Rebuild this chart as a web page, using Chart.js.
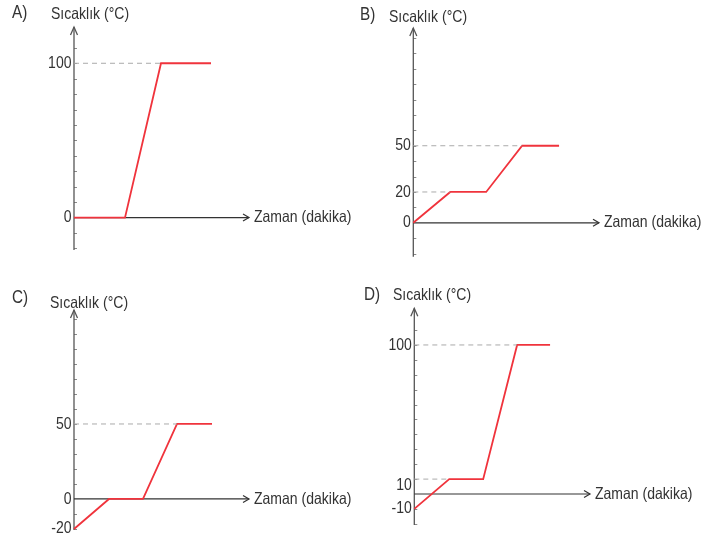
<!DOCTYPE html>
<html>
<head>
<meta charset="utf-8">
<script src="https://cdn.jsdelivr.net/npm/chart.js@4.4.1/dist/chart.umd.min.js"></script>
<style>
  html, body { margin: 0; padding: 0; background: #fff; }
  #wrap { position: relative; width: 712px; height: 539px; overflow: hidden; }
  canvas { position: absolute; }
</style>
</head>
<body>
<div id="wrap">
  <canvas id="cA" width="356" height="265" style="left:0;top:0"></canvas>
  <canvas id="cB" width="356" height="265" style="left:356px;top:0"></canvas>
  <canvas id="cC" width="356" height="269" style="left:0;top:270px"></canvas>
  <canvas id="cD" width="356" height="269" style="left:356px;top:270px"></canvas>
</div>
<script>
// ── data (time in arbitrary minutes, temperature in °C) ──
const letters = ['A)', 'B)', 'C)', 'D)'];
const yTitle = 'Sıcaklık (°C)';
const xTitle = 'Zaman (dakika)';

const timeA = [0, 5.1, 8.7, 13.7];
const tempA = [0, 0, 100, 100];
const ticksA = [0, 100];

const timeB = [0, 3.7, 7.3, 10.9, 14.6];
const tempB = [0, 20, 20, 50, 50];
const ticksB = [0, 20, 50];

const timeC = [0, 3.5, 6.9, 10.3, 13.8];
const tempC = [-20, 0, 0, 50, 50];
const ticksC = [-20, 0, 50];

const timeD = [0, 3.5, 6.9, 10.3, 13.6];
const tempD = [-10, 10, 10, 100, 100];
const ticksD = [-10, 10, 100];

// ── layout per panel (page coords for the texts) ──
const FONT = '"Liberation Sans", Arial, sans-serif';
const NARROW = 0.85; // horizontal squeeze, the original uses a condensed face
const panels = [
  { id: 'cA', left: 0,   top: 0,   pad: { left: 74,   right: 107, top: 27,   bottom: 15 },  xMax: 17.5, yMin: -21,   yMax: 123.5, letter: [12, 13],   title: [51, 14],   time: timeA, temp: tempA, ticks: ticksA, lblOff: {} },
  { id: 'cB', left: 356, top: 0,   pad: { left: 57.3, right: 113, top: 28,   bottom: 8.3 }, xMax: 18.6, yMin: -22,   yMax: 126.4, letter: [360, 15],  title: [389, 17],  time: timeB, temp: tempB, ticks: ticksB, lblOff: {} },
  { id: 'cC', left: 0,   top: 270, pad: { left: 74,   right: 107, top: 40,   bottom: 9 },   xMax: 17.5, yMin: -20.7, yMax: 126,   letter: [12, 298],  title: [50, 303],  time: timeC, temp: tempC, ticks: ticksC, lblOff: {} },
  { id: 'cD', left: 356, top: 270, pad: { left: 58.3, right: 122, top: 38.3, bottom: 14 },  xMax: 17.6, yMin: -20.8, yMax: 124.6, letter: [364, 295], title: [393, 295], time: timeD, temp: tempD, ticks: ticksD, lblOff: { 10: 6 } }
];

function narrowText(ctx, txt, x, y) {
  ctx.save();
  ctx.translate(x, y);
  ctx.scale(NARROW, 1);
  ctx.fillText(txt, 0, 0);
  ctx.restore();
}

// axes with arrows, minor ticks, tick labels and titles
const arrowAxes = {
  id: 'arrowAxes',
  beforeDatasetsDraw(chart, args, o) {
    const p = o.panel;
    const ctx = chart.ctx, xs = chart.scales.x, ys = chart.scales.y;
    const ox = xs.getPixelForValue(0), oy = ys.getPixelForValue(0);
    const top = ys.getPixelForValue(ys.max), bottom = ys.getPixelForValue(ys.min);
    const right = xs.getPixelForValue(xs.max);
    ctx.save();
    ctx.lineCap = 'butt';

    // minor ticks every 10
    ctx.strokeStyle = '#8a8a8a';
    ctx.lineWidth = 1;
    for (let v = Math.ceil(ys.min / 10) * 10; v < ys.max - 5; v += 10) {
      if (v === 0) continue;
      const py = Math.round(ys.getPixelForValue(v)) + 0.5;
      ctx.beginPath(); ctx.moveTo(ox, py); ctx.lineTo(ox + 3, py); ctx.stroke();
    }

    // y axis
    ctx.strokeStyle = '#555';
    ctx.lineWidth = 1.3;
    ctx.beginPath(); ctx.moveTo(ox, bottom); ctx.lineTo(ox, top); ctx.stroke();
    ctx.beginPath(); ctx.moveTo(ox - 3.5, top + 8); ctx.lineTo(ox, top); ctx.lineTo(ox + 3.5, top + 8); ctx.stroke();

    // x axis
    ctx.strokeStyle = '#333';
    ctx.lineWidth = 1.2;
    ctx.beginPath(); ctx.moveTo(ox, oy); ctx.lineTo(right, oy); ctx.stroke();
    ctx.beginPath(); ctx.moveTo(right - 6, oy - 3.5); ctx.lineTo(right, oy); ctx.lineTo(right - 6, oy + 3.5); ctx.stroke();

    // tick labels
    ctx.fillStyle = '#333';
    ctx.font = '16.5px ' + FONT;
    ctx.textAlign = 'right';
    ctx.textBaseline = 'middle';
    p.ticks.forEach(v => {
      narrowText(ctx, String(v), ox - 2.5, ys.getPixelForValue(v) + (p.lblOff[v] || 0));
    });

    // titles
    ctx.textAlign = 'left';
    narrowText(ctx, xTitle, right + 5, oy);
    narrowText(ctx, yTitle, p.title[0] - p.left, p.title[1] - p.top);
    ctx.font = '18px ' + FONT;
    narrowText(ctx, p.letterText, p.letter[0] - p.left, p.letter[1] - p.top);
    ctx.restore();
  }
};

panels.forEach((p, i) => {
  p.letterText = letters[i];
  const points = p.time.map((t, k) => ({ x: t, y: p.temp[k] }));
  const datasets = [];
  // dashed guide from the y axis to where each labelled plateau starts
  p.ticks.filter(v => v > 0).forEach(v => {
    const k = p.temp.indexOf(v);
    datasets.push({
      data: [{ x: 0, y: v }, { x: p.time[k], y: v }],
      borderColor: '#aaa', borderWidth: 1, borderDash: [5, 4], clip: false
    });
  });
  datasets.push({ data: points, borderColor: '#f0333c', borderWidth: 1.8, clip: false });

  new Chart(document.getElementById(p.id), {
    type: 'line',
    data: { datasets },
    options: {
      responsive: false,
      animation: false,
      layout: { padding: p.pad },
      elements: { point: { radius: 0 }, line: { tension: 0 } },
      plugins: { legend: { display: false }, tooltip: { enabled: false }, arrowAxes: { panel: p } },
      scales: {
        x: { type: 'linear', display: false, min: 0, max: p.xMax },
        y: { type: 'linear', display: false, min: p.yMin, max: p.yMax }
      }
    },
    plugins: [arrowAxes]
  });
});
</script>
</body>
</html>
